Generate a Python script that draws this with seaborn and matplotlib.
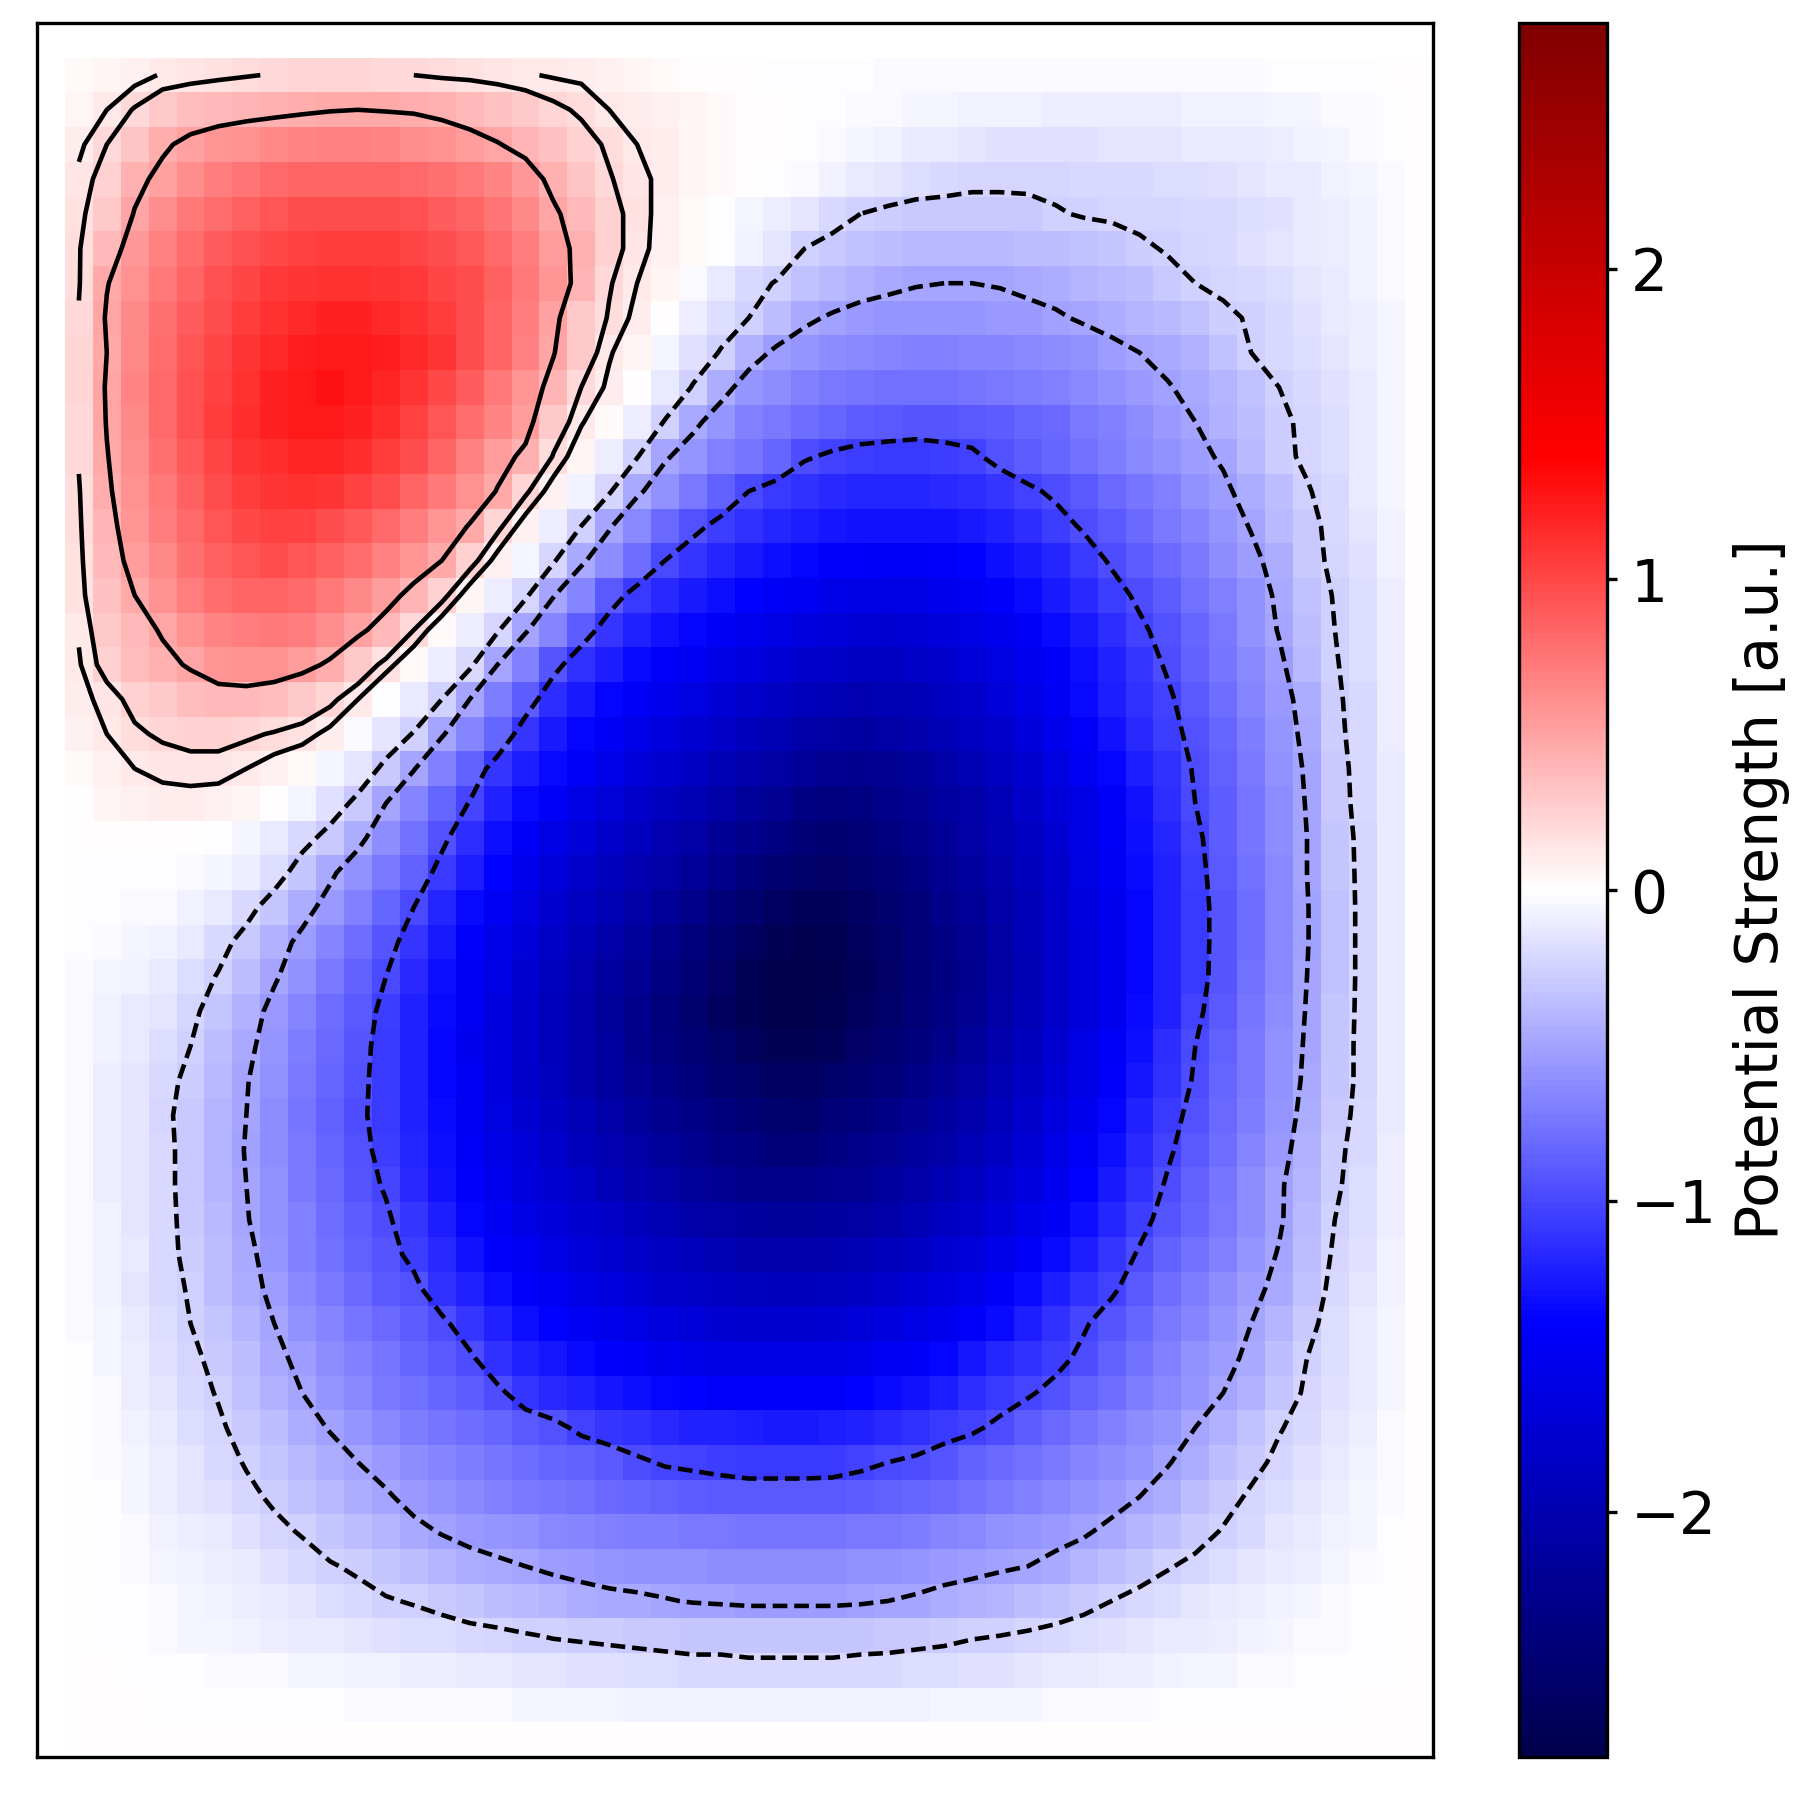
import numpy as np
import matplotlib
matplotlib.use("Agg")
import matplotlib.pyplot as plt
import seaborn as sns

# potential in hundredths of a.u.; rows top to bottom, columns 1..48 of 0..49
rows = [
[3,5,8,13,15,17,19,21,22,23,23,21,20,18,17,15,13,11,10,8,6,4,2,1,0,-1,-1,-2,-2,-3,-3,-3,-4,-4,-4,-4,-4,-4,-4,-4,-3,-3,-3,-2,-2,-1,-1,0],
[5,12,21,30,35,38,40,42,44,46,47,46,45,42,38,34,29,23,18,12,10,7,5,3,1,0,-1,-2,-3,-4,-5,-6,-7,-8,-8,-9,-9,-9,-9,-9,-8,-8,-7,-6,-5,-4,-3,-1],
[10,20,32,44,52,57,61,64,67,68,68,66,63,59,54,48,41,33,25,18,12,9,6,4,2,0,-1,-3,-5,-8,-11,-13,-15,-16,-16,-16,-16,-15,-15,-14,-13,-12,-11,-10,-8,-6,-4,-1],
[14,26,42,52,62,70,76,81,84,85,85,84,81,77,72,66,56,42,32,21,14,10,6,3,1,-1,-4,-7,-11,-15,-18,-20,-22,-22,-22,-22,-21,-21,-20,-19,-18,-17,-15,-13,-11,-8,-5,-3],
[17,30,48,62,72,80,87,92,96,98,98,97,94,89,83,76,64,50,38,24,16,8,3,-1,-5,-10,-15,-20,-25,-28,-30,-30,-30,-30,-29,-26,-24,-23,-22,-22,-21,-20,-18,-16,-13,-10,-7,-4],
[19,38,55,69,80,88,95,100,104,106,106,105,102,97,91,82,70,54,42,25,15,8,3,-2,-8,-15,-25,-29,-33,-36,-38,-39,-39,-38,-37,-35,-33,-31,-27,-24,-22,-20,-17,-15,-13,-10,-7,-4],
[19,46,60,74,85,94,101,107,111,113,113,111,108,102,96,87,74,57,41,21,12,5,-3,-12,-20,-26,-33,-39,-43,-46,-49,-50,-50,-49,-46,-44,-41,-38,-35,-29,-25,-23,-21,-18,-15,-12,-8,-4],
[21,49,64,78,89,98,106,112,117,120,120,117,112,105,96,84,70,52,30,19,9,0,-10,-18,-25,-37,-47,-52,-56,-58,-58,-58,-58,-56,-55,-52,-48,-45,-41,-38,-34,-27,-24,-20,-17,-13,-9,-5],
[22,47,65,80,92,102,110,117,123,126,126,123,117,109,98,85,68,48,29,13,5,-5,-16,-26,-43,-53,-58,-62,-65,-67,-68,-68,-67,-66,-64,-62,-59,-54,-50,-46,-42,-33,-25,-21,-18,-14,-10,-5],
[22,49,66,82,94,104,113,120,126,129,126,119,110,100,88,73,57,41,20,10,0,-12,-26,-44,-57,-63,-68,-72,-75,-77,-78,-78,-75,-73,-71,-68,-65,-61,-56,-51,-46,-41,-33,-25,-21,-16,-11,-6],
[21,48,65,81,94,105,114,121,126,126,122,114,104,93,80,67,54,29,13,3,-10,-26,-46,-58,-68,-74,-79,-85,-89,-91,-93,-93,-91,-89,-85,-81,-74,-68,-62,-56,-50,-43,-35,-27,-23,-18,-12,-6],
[21,46,63,78,91,101,109,115,119,119,114,106,96,83,69,54,43,19,5,-9,-24,-48,-58,-68,-75,-85,-98,-103,-106,-107,-107,-105,-103,-95,-89,-83,-77,-71,-65,-59,-54,-48,-39,-28,-23,-18,-12,-6],
[19,44,60,74,87,98,106,111,113,110,104,96,85,73,60,46,22,7,-7,-23,-47,-60,-74,-87,-100,-107,-113,-117,-119,-119,-119,-117,-114,-109,-103,-97,-90,-82,-75,-68,-60,-53,-44,-35,-26,-20,-13,-6],
[18,41,57,70,82,93,100,103,103,98,91,81,70,58,46,23,7,-10,-25,-48,-65,-82,-95,-105,-113,-119,-124,-127,-129,-130,-130,-129,-126,-120,-114,-106,-98,-90,-82,-74,-66,-58,-49,-39,-29,-21,-14,-7],
[17,38,53,65,77,87,93,96,93,87,79,69,58,47,25,8,-6,-23,-47,-63,-80,-100,-110,-118,-125,-131,-136,-140,-143,-144,-144,-143,-138,-132,-126,-118,-108,-98,-89,-81,-72,-63,-54,-44,-30,-22,-16,-8],
[16,34,47,60,71,80,84,85,81,73,64,54,41,24,6,-9,-22,-49,-66,-90,-108,-117,-125,-132,-138,-145,-150,-155,-158,-158,-158,-153,-147,-141,-133,-125,-116,-106,-97,-88,-78,-68,-59,-47,-33,-24,-18,-9],
[13,29,39,49,59,67,71,73,70,62,51,39,20,4,-10,-23,-48,-66,-89,-110,-120,-129,-137,-145,-152,-159,-164,-169,-172,-173,-172,-166,-160,-152,-144,-135,-125,-114,-103,-94,-84,-73,-61,-49,-36,-25,-19,-10],
[11,25,35,42,49,57,60,59,53,44,30,16,3,-10,-21,-50,-68,-93,-113,-123,-133,-142,-150,-158,-165,-172,-178,-183,-186,-187,-183,-177,-170,-162,-152,-142,-131,-120,-109,-98,-87,-76,-65,-53,-39,-26,-19,-10],
[9,15,24,30,36,39,39,35,29,23,12,-1,-12,-25,-50,-71,-89,-114,-125,-136,-145,-154,-163,-171,-178,-185,-191,-196,-199,-198,-194,-187,-179,-169,-158,-147,-135,-123,-113,-103,-91,-79,-67,-56,-44,-27,-20,-10],
[7,12,18,22,25,25,22,19,16,9,-3,-15,-26,-48,-66,-84,-111,-125,-136,-146,-156,-165,-174,-183,-191,-198,-205,-210,-213,-209,-204,-196,-187,-177,-166,-154,-142,-129,-117,-106,-95,-83,-71,-58,-46,-28,-20,-10],
[4,8,12,14,15,15,12,7,3,-5,-15,-29,-49,-68,-87,-109,-123,-135,-146,-156,-166,-176,-185,-195,-203,-211,-218,-224,-226,-222,-216,-207,-198,-187,-175,-162,-150,-137,-124,-112,-98,-86,-73,-60,-48,-29,-21,-11],
[2,5,7,9,9,8,5,1,-6,-17,-29,-50,-67,-84,-101,-120,-134,-146,-158,-169,-179,-188,-198,-207,-216,-224,-234,-238,-236,-231,-224,-215,-205,-194,-182,-170,-157,-144,-129,-115,-100,-88,-75,-62,-49,-30,-21,-11],
[0,1,1,1,0,-2,-6,-12,-20,-30,-45,-62,-77,-95,-115,-131,-145,-157,-168,-179,-189,-199,-209,-219,-228,-237,-245,-249,-245,-238,-230,-220,-209,-198,-186,-173,-160,-146,-132,-118,-104,-89,-76,-63,-50,-31,-22,-11],
[-1,-1,-1,-1,-3,-5,-9,-18,-32,-47,-60,-73,-87,-107,-124,-139,-154,-166,-177,-188,-199,-209,-220,-230,-240,-249,-257,-259,-252,-245,-236,-226,-215,-203,-191,-177,-163,-149,-134,-120,-106,-91,-77,-64,-50,-32,-22,-12],
[-1,-2,-3,-3,-7,-12,-20,-32,-44,-56,-69,-83,-100,-118,-133,-148,-162,-175,-187,-198,-209,-220,-231,-242,-252,-262,-268,-268,-260,-252,-242,-231,-219,-207,-194,-180,-165,-151,-136,-121,-107,-93,-79,-65,-51,-33,-22,-12],
[-2,-3,-5,-7,-12,-20,-30,-43,-54,-66,-79,-93,-109,-125,-141,-156,-169,-181,-194,-205,-217,-229,-240,-251,-262,-272,-276,-273,-265,-256,-246,-235,-223,-210,-196,-182,-167,-152,-137,-121,-107,-93,-79,-65,-51,-33,-22,-12],
[-3,-5,-8,-11,-18,-26,-36,-48,-60,-73,-87,-100,-116,-131,-147,-161,-175,-188,-200,-212,-224,-236,-248,-259,-270,-279,-278,-275,-267,-258,-248,-237,-225,-211,-197,-183,-168,-153,-137,-122,-107,-92,-78,-64,-50,-33,-22,-12],
[-4,-7,-11,-15,-22,-31,-42,-55,-67,-79,-91,-105,-120,-135,-150,-165,-178,-191,-204,-216,-228,-240,-252,-263,-272,-278,-277,-274,-265,-256,-246,-235,-223,-209,-195,-181,-166,-151,-135,-120,-104,-90,-76,-63,-49,-32,-22,-12],
[-4,-8,-13,-19,-25,-35,-46,-58,-70,-82,-93,-108,-121,-136,-151,-165,-178,-191,-203,-215,-227,-238,-248,-257,-265,-272,-272,-266,-259,-250,-240,-229,-217,-203,-190,-176,-161,-146,-131,-115,-100,-87,-74,-61,-48,-31,-22,-12],
[-4,-9,-14,-21,-28,-38,-49,-61,-73,-84,-95,-108,-121,-136,-150,-164,-177,-189,-201,-212,-222,-232,-241,-249,-256,-262,-263,-256,-250,-242,-233,-222,-210,-198,-185,-171,-157,-142,-127,-112,-98,-85,-72,-60,-47,-31,-22,-11],
[-4,-9,-14,-22,-30,-40,-50,-63,-75,-86,-96,-108,-121,-135,-149,-162,-174,-185,-196,-206,-216,-225,-233,-241,-247,-252,-253,-246,-240,-233,-224,-214,-203,-191,-178,-165,-151,-136,-121,-107,-94,-82,-70,-58,-45,-30,-21,-11],
[-4,-9,-14,-21,-30,-40,-51,-63,-74,-84,-94,-106,-119,-132,-146,-158,-170,-180,-190,-200,-209,-217,-225,-232,-237,-242,-242,-236,-230,-223,-215,-206,-195,-184,-171,-158,-145,-131,-117,-103,-90,-79,-67,-55,-43,-28,-20,-10],
[-4,-9,-14,-21,-30,-40,-50,-61,-72,-82,-92,-102,-116,-129,-141,-153,-164,-174,-183,-192,-201,-209,-216,-222,-227,-230,-230,-226,-221,-214,-206,-197,-187,-176,-164,-152,-139,-126,-112,-98,-86,-75,-63,-52,-41,-27,-19,-10],
[-4,-8,-14,-21,-29,-38,-49,-59,-69,-79,-88,-97,-111,-124,-136,-147,-157,-167,-175,-183,-191,-198,-205,-210,-215,-217,-217,-215,-211,-205,-197,-187,-177,-167,-156,-144,-132,-119,-106,-93,-84,-73,-62,-52,-39,-25,-18,-9],
[-3,-8,-13,-21,-28,-37,-46,-57,-68,-78,-86,-93,-105,-117,-129,-140,-150,-159,-167,-174,-181,-187,-193,-198,-202,-204,-204,-202,-198,-192,-184,-176,-166,-156,-146,-135,-123,-111,-98,-87,-78,-68,-58,-49,-36,-23,-16,-8],
[-3,-8,-14,-21,-26,-35,-44,-54,-64,-73,-82,-90,-95,-112,-122,-132,-141,-150,-158,-165,-171,-177,-182,-186,-189,-190,-190,-188,-184,-179,-172,-164,-155,-145,-135,-124,-113,-103,-91,-80,-71,-62,-54,-46,-33,-21,-15,-7],
[-3,-6,-13,-19,-25,-32,-41,-50,-59,-67,-75,-82,-89,-96,-110,-120,-131,-139,-147,-154,-160,-165,-169,-173,-175,-176,-176,-174,-170,-165,-158,-151,-142,-133,-123,-113,-102,-92,-83,-74,-66,-58,-50,-41,-29,-19,-13,-6],
[-2,-5,-10,-16,-22,-29,-37,-46,-54,-62,-69,-76,-83,-90,-97,-112,-120,-127,-134,-141,-146,-151,-155,-158,-160,-160,-160,-159,-155,-150,-144,-136,-128,-119,-112,-105,-96,-87,-78,-69,-61,-54,-47,-37,-25,-18,-12,-6],
[-2,-4,-9,-14,-20,-26,-33,-42,-50,-58,-65,-72,-78,-83,-88,-96,-109,-116,-122,-127,-132,-136,-139,-142,-143,-143,-143,-142,-139,-135,-129,-123,-115,-108,-102,-95,-87,-79,-71,-64,-57,-50,-42,-32,-23,-17,-11,-5],
[-1,-3,-7,-12,-18,-23,-30,-37,-44,-51,-58,-64,-70,-75,-80,-85,-90,-95,-104,-109,-113,-116,-120,-122,-124,-125,-125,-124,-121,-117,-112,-107,-103,-96,-89,-82,-75,-69,-63,-57,-50,-42,-34,-26,-20,-14,-9,-4],
[-1,-3,-6,-10,-15,-20,-26,-32,-38,-44,-50,-56,-62,-67,-71,-75,-79,-83,-87,-91,-97,-102,-104,-106,-108,-108,-108,-107,-104,-100,-97,-92,-87,-82,-77,-72,-67,-62,-57,-51,-44,-37,-29,-22,-17,-12,-8,-3],
[0,-2,-5,-9,-14,-17,-22,-27,-33,-39,-45,-48,-55,-60,-64,-68,-72,-75,-78,-81,-83,-86,-88,-90,-91,-91,-91,-91,-89,-87,-84,-81,-77,-73,-69,-65,-60,-56,-50,-44,-37,-30,-23,-18,-14,-10,-6,-3],
[0,-1,-4,-7,-10,-13,-17,-22,-26,-31,-36,-41,-46,-51,-55,-58,-61,-64,-66,-68,-70,-71,-73,-74,-75,-75,-75,-75,-74,-72,-70,-67,-64,-61,-58,-55,-52,-46,-41,-35,-30,-24,-20,-15,-11,-8,-5,-2],
[0,-1,-3,-5,-8,-10,-13,-17,-20,-24,-27,-31,-36,-40,-44,-47,-50,-53,-55,-57,-59,-60,-61,-62,-62,-62,-62,-62,-61,-60,-58,-56,-54,-52,-50,-46,-41,-36,-31,-26,-22,-18,-14,-11,-9,-6,-4,-2],
[0,-1,-2,-4,-6,-8,-10,-13,-15,-18,-21,-24,-26,-29,-32,-35,-38,-41,-44,-46,-47,-49,-51,-52,-53,-53,-53,-53,-52,-50,-48,-45,-43,-40,-37,-33,-29,-25,-21,-18,-15,-12,-10,-8,-6,-4,-2,-1],
[0,-1,-2,-3,-5,-6,-8,-9,-11,-13,-14,-16,-18,-19,-21,-22,-24,-26,-27,-28,-29,-30,-31,-31,-32,-32,-32,-32,-31,-30,-29,-28,-26,-25,-23,-21,-19,-17,-15,-13,-11,-9,-7,-6,-4,-3,-2,-1],
[0,0,-1,-1,-2,-3,-3,-4,-5,-6,-7,-8,-9,-10,-11,-12,-14,-15,-16,-17,-18,-19,-20,-20,-21,-21,-21,-21,-20,-20,-19,-18,-17,-16,-14,-13,-12,-10,-9,-8,-6,-5,-4,-3,-2,-2,-1,-1],
[0,0,0,-1,-1,-1,-1,-2,-2,-2,-3,-3,-3,-4,-4,-4,-5,-5,-6,-6,-7,-7,-8,-8,-8,-8,-8,-8,-8,-7,-7,-6,-6,-5,-5,-4,-4,-3,-3,-2,-2,-2,-1,-1,-1,-1,0,0],
]
contour_levels = [-100, -50, -25, 12, 20, 47]
cbar_ticks = [-2, -1, 0, 1, 2]
cbar_label = "Potential Strength [a.u.]"
color_limit = 2.79

for i, r in enumerate(rows):
    assert len(r) == 48, (i + 1, len(r))

plt.rcParams["lines.dashed_pattern"] = [3.2, 1.5]

grid = np.full((50, 50), np.nan)
grid[1:49, 1:49] = np.array(rows, float) / 100.0
grid[49, 1:] = 0.0
grid[1:, 49] = 0.0
frame = np.ma.masked_invalid(grid)

fig = plt.figure(figsize=(1813 / 300, 1794 / 300), dpi=300)
ax = fig.add_axes([32 / 1568, 1 - 1520 / 1552, (1239 - 32) / 1568, 1500 / 1552])
cax = fig.add_axes([1314 / 1568, 1 - 1520 / 1552, 76 / 1568, 1500 / 1552])

sns.heatmap(grid, ax=ax, cmap="seismic", vmin=-color_limit, vmax=color_limit,
            xticklabels=False, yticklabels=False, cbar_ax=cax, linewidths=0)
for s in ax.spines.values():
    s.set_visible(True)
    s.set_linewidth(0.8)
    s.set_color("black")

xc = np.arange(50) + 0.5
ax.contour(xc, xc, frame, levels=np.array(contour_levels) / 100.0,
           colors="black", linewidths=1.1)

cb = ax.collections[0].colorbar
cb.outline.set_visible(True)
cb.outline.set_linewidth(0.8)
cb.outline.set_edgecolor("black")
cb.set_ticks(cbar_ticks)
cb.ax.tick_params(labelsize=14, length=2.4, width=0.8, pad=3.2, color="black")
cb.set_label(cbar_label, fontsize=14, labelpad=4)

fig.savefig("out.png", dpi=300)
